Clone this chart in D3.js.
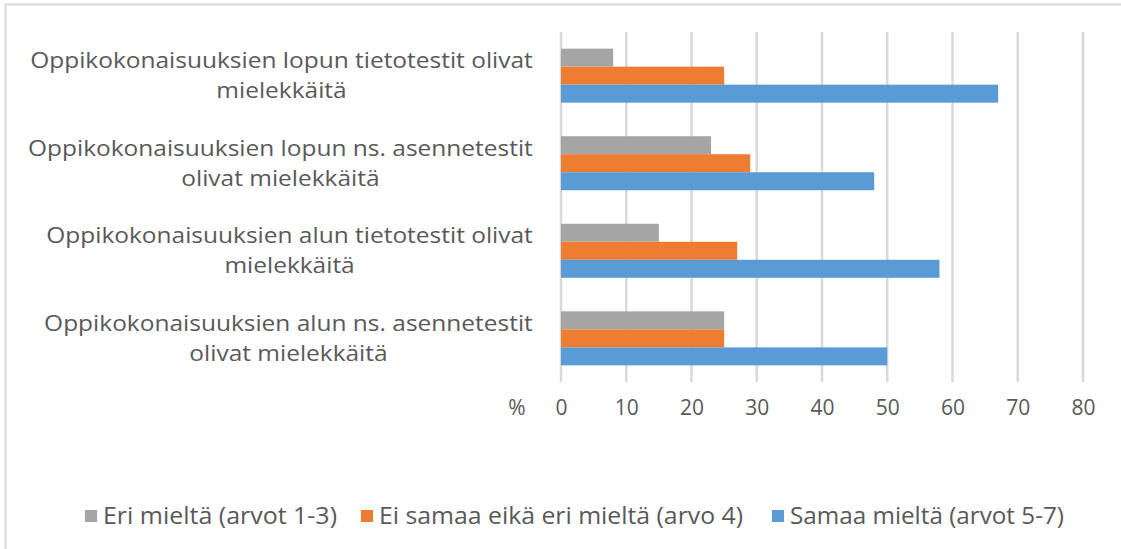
<!DOCTYPE html>
<html>
<head>
<meta charset="utf-8">
<script src="https://cdn.jsdelivr.net/npm/d3@7"></script>
<style>
  body { margin: 0; background: #fff; }
  svg { display: block; }
  text { font-family: "Open Sans", "Noto Sans", sans-serif; fill: #595959; }
</style>
</head>
<body>
<div id="chart"></div>
<script>
// Data (percent).
var categories = [
  ['Oppikokonaisuuksien lopun tietotestit olivat', 'mielekkäitä'],
  ['Oppikokonaisuuksien lopun ns. asennetestit', 'olivat mielekkäitä'],
  ['Oppikokonaisuuksien alun tietotestit olivat', 'mielekkäitä'],
  ['Oppikokonaisuuksien alun ns. asennetestit', 'olivat mielekkäitä']
];
var seriesNames = ['Eri mieltä (arvot 1-3)', 'Ei samaa eikä eri mieltä (arvo 4)', 'Samaa mieltä (arvot 5-7)'];
var eriMielta = [8, 23, 15, 25];
var eiSamaaEikaEri = [25, 29, 27, 25];
var samaaMielta = [67, 48, 58, 50];
var xTicks = [0, 10, 20, 30, 40, 50, 60, 70, 80];

var colors = ['#A5A5A5', '#ED7D31', '#5B9BD5'];
var seriesValues = [eriMielta, eiSamaaEikaEri, samaaMielta];

var width = 1121, height = 549;
var svg = d3.select('#chart').append('svg')
    .attr('width', width)
    .attr('height', height);

// Chart border (only top and left are inside the window).
svg.append('rect')
    .attr('x', 5.5).attr('y', 4.5)
    .attr('width', 1130).attr('height', 560)
    .attr('fill', 'none')
    .attr('stroke', '#D9D9D9')
    .attr('stroke-width', 2);

var x = d3.scaleLinear().domain([0, 80]).range([561, 1083]);
var y = d3.scaleBand().domain(d3.range(categories.length)).range([32, 382])
    .paddingInner(0.383).paddingOuter(0.19);
var ySub = d3.scaleBand().domain(d3.range(seriesNames.length)).range([0, y.bandwidth()]);

// Gridlines.
svg.append('g').selectAll('line').data(xTicks).enter().append('line')
    .attr('x1', function(d) { return x(d); })
    .attr('x2', function(d) { return x(d); })
    .attr('y1', 32)
    .attr('y2', 382)
    .attr('stroke', '#D9D9D9')
    .attr('stroke-width', 2.5);

// Bars.
var groups = svg.append('g').selectAll('g').data(categories).enter().append('g')
    .attr('transform', function(d, i) { return 'translate(0,' + y(i) + ')'; });
groups.selectAll('rect').data(function(d, i) {
    return seriesValues.map(function(vals, s) { return {s: s, v: vals[i]}; });
  }).enter().append('rect')
    .attr('x', x(0))
    .attr('y', function(d) { return ySub(d.s); })
    .attr('width', function(d) { return x(d.v) - x(0); })
    .attr('height', ySub.bandwidth())
    .attr('fill', function(d) { return colors[d.s]; });

// Category labels, centred lines, right edge at 533.
// The reference font is wider, so all labels share one horizontal stretch.
var labelTexts = [];
groups.each(function(lines, i) {
  var t = d3.select(this).append('text')
      .attr('text-anchor', 'middle')
      .style('font-size', '21px');
  lines.forEach(function(line, k) {
    t.append('tspan')
        .attr('x', 0)
        .attr('y', y.bandwidth() / 2 + (k - (lines.length - 1) / 2) * 30)
        .attr('dy', '0.35em')
        .text(line);
  });
  labelTexts.push(t);
});
var stretch = 503 / labelTexts[0].node().getBBox().width;
labelTexts.forEach(function(t) {
  var w = t.node().getBBox().width * stretch;
  t.attr('transform', 'translate(' + (533 - w / 2) + ',0) scale(' + stretch + ',1)');
});

// X axis labels.
var axis = d3.axisBottom(x).tickValues(xTicks).tickSize(0).tickPadding(0);
var ax = svg.append('g').attr('transform', 'translate(0,398)').call(axis);
ax.select('.domain').remove();
ax.selectAll('text')
    .style('font-size', '21px')
    .attr('fill', '#595959')
    .attr('dy', '0.8em');
svg.append('text')
    .attr('x', 517).attr('y', 398)
    .attr('dy', '0.8em')
    .attr('text-anchor', 'middle')
    .style('font-size', '21px')
    .text('%');

// Legend.
var legendX = [85, 361, 772];
var legendW = [234, 364, 274];
var legend = svg.append('g').selectAll('g').data(seriesNames).enter().append('g')
    .attr('transform', function(d, i) { return 'translate(' + legendX[i] + ',516)'; });
legend.append('rect')
    .attr('x', 0).attr('y', -6)
    .attr('width', 12).attr('height', 12)
    .attr('fill', function(d, i) { return colors[i]; });
legend.append('text')
    .attr('x', 18)
    .attr('dy', '0.35em')
    .style('font-size', '23px')
    .attr('textLength', function(d, i) { return legendW[i]; })
    .attr('lengthAdjust', 'spacingAndGlyphs')
    .text(function(d) { return d; });
</script>
</body>
</html>
